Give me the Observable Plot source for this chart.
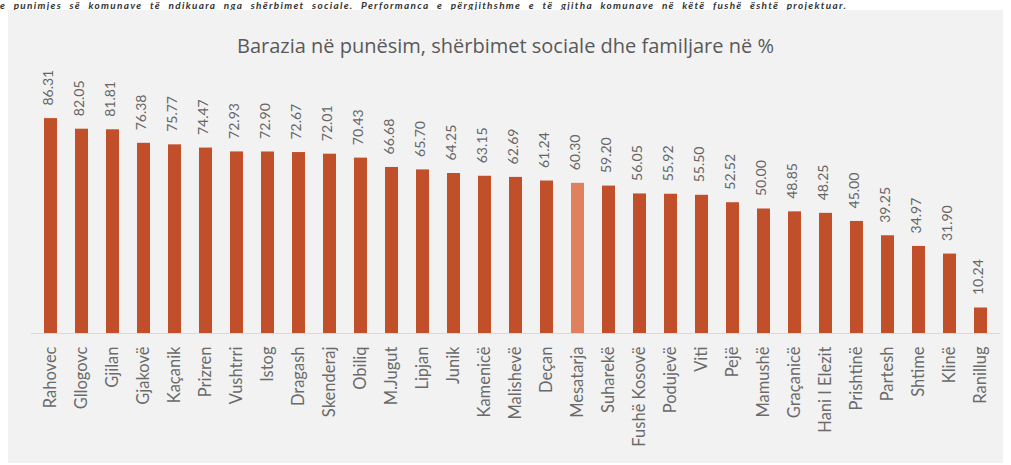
<!DOCTYPE html>
<html>
<head>
<meta charset="utf-8">
<script src="https://cdn.jsdelivr.net/npm/d3@7"></script>
<script src="https://cdn.jsdelivr.net/npm/@observablehq/plot@0.6"></script>
<style>
  html, body { margin: 0; padding: 0; background: #ffffff; }
  #page { position: relative; width: 1011px; height: 465px; overflow: hidden; font-family: Lato, "Open Sans", sans-serif; }
  #toptext { position: absolute; left: 0; top: 0; font: italic bold 10px Lato, sans-serif; line-height: 10px; letter-spacing: 1.3px; word-spacing: 4px; color: #333; white-space: nowrap; }
  #panel { position: absolute; left: 8px; top: 10px; width: 995px; height: 453px; background: #f2f2f2; }
  #title { position: absolute; left: 0; top: 34px; width: 1011px; text-align: center; font-family: "Open Sans", sans-serif; font-size: 20px; line-height: 24px; color: #595959; }
  #chart { position: absolute; left: 0; top: 62px; }
</style>
</head>
<body>
<div id="page">
  <div id="toptext">e punimjes së komunave të ndikuara nga shërbimet sociale. Performanca e përgjithshme e të gjitha komunave në këtë fushë është projektuar.</div>
  <div id="panel"></div>
  <div id="title">Barazia në punësim, shërbimet sociale dhe familjare në %</div>
  <div id="chart"></div>
</div>
<script>
const categories = ["Rahovec","Gllogovc","Gjilan","Gjakovë","Kaçanik","Prizren","Vushtrri","Istog","Dragash","Skenderaj","Obiliq","M.Jugut","Lipjan","Junik","Kamenicë","Malishevë","Deçan","Mesatarja","Suharekë","Fushë Kosovë","Podujevë","Viti","Pejë","Mamushë","Graçanicë","Hani I Elezit","Prishtinë","Partesh","Shtime","Klinë","Ranillug"];
const values = [86.31,82.05,81.81,76.38,75.77,74.47,72.93,72.90,72.67,72.01,70.43,66.68,65.70,64.25,63.15,62.69,61.24,60.30,59.20,56.05,55.92,55.50,52.52,50.00,48.85,48.25,45.00,39.25,34.97,31.90,10.24];
const averageLabel = "Mesatarja";
const barColor = "#c14f2a";
const avgColor = "#e0805c";

const data = categories.map((c, i) => ({name: c, value: values[i]}));

const chart = Plot.plot({
  width: 1011,
  height: 400,
  marginTop: 22,
  marginBottom: 129,
  marginLeft: 31,
  marginRight: 11,
  style: {background: "transparent", fontFamily: "Lato, 'Open Sans', sans-serif"},
  x: {domain: categories, paddingInner: 0.58, paddingOuter: 0.29, axis: null},
  y: {domain: [0, 100], axis: null},
  marks: [
    Plot.barY(data, {x: "name", y: "value", fill: d => d.name === averageLabel ? avgColor : barColor}),
    Plot.ruleY([0], {stroke: "#d9d9d9", strokeWidth: 1}),
    Plot.text(data, {x: "name", y: "value", text: d => d.value.toFixed(2), rotate: -90, textAnchor: "start", lineAnchor: "middle", dy: -13, dx: -2, fontSize: 14, fill: "#666666"}),
    Plot.text(data, {x: "name", y: 0, text: "name", rotate: -90, textAnchor: "end", lineAnchor: "middle", dy: 13, fontSize: 16.5, fill: "#6a6a6a"})
  ]
});
document.getElementById("chart").appendChild(chart);
</script>
</body>
</html>
